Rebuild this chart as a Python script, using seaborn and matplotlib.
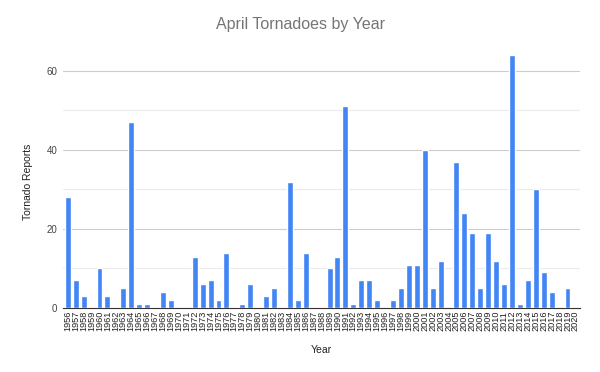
import matplotlib
matplotlib.use("Agg")
import matplotlib.pyplot as plt
import seaborn as sns
import pandas as pd

# April tornado reports per year
years = list(range(1956, 2021))
reports = [28, 7, 3, 0, 10, 3, 0, 5, 47, 1,
           1, 0, 4, 2, 0, 0, 13, 6, 7, 2,
           14, 0, 1, 6, 0, 3, 5, 0, 32, 2,
           14, 0, 0, 10, 13, 51, 1, 7, 7, 2,
           0, 2, 5, 11, 11, 40, 5, 12, 0, 37,
           24, 19, 5, 19, 12, 6, 64, 1, 7, 30,
           9, 4, 0, 5, 0]

df = pd.DataFrame({"Year": [str(y) for y in years], "Tornado Reports": reports})

sns.set_style("white")
plt.rcParams['font.family'] = ['Liberation Sans', 'DejaVu Sans']

fig = plt.figure(figsize=(6, 3.72), dpi=100)
ax = fig.add_axes([0.105, 0.172, 0.862, 0.68])

sns.barplot(data=df, x="Year", y="Tornado Reports", color="#4285F4",
            width=0.75, saturation=1, ax=ax, zorder=3)

ax.set_ylim(0, 64)
ax.set_xlim(-0.6, len(years) - 0.4)
ax.set_yticks([0, 20, 40, 60])
ax.set_yticks([10, 30, 50], minor=True)
ax.grid(axis="y", which="major", color="#cccccc", linewidth=0.8, zorder=0)
ax.grid(axis="y", which="minor", color="#ebebeb", linewidth=0.8, zorder=0)
ax.tick_params(axis="y", which="both", length=0, labelsize=7, labelcolor="#444444", pad=4)
ax.tick_params(axis="x", length=0, labelsize=6.6, labelcolor="#222222", rotation=90, pad=2)

for s in ["top", "right", "left"]:
    ax.spines[s].set_visible(False)
ax.spines["bottom"].set_color("#333333")
ax.spines["bottom"].set_linewidth(0.8)

ax.set_xlabel("Year", fontsize=7.5, color="#222222", labelpad=10)
ax.set_ylabel("Tornado Reports", fontsize=7.5, color="#222222", labelpad=10)
fig.suptitle("April Tornadoes by Year", y=0.955, fontsize=11.5, color="#757575")

fig.savefig("out.png", dpi=100)
